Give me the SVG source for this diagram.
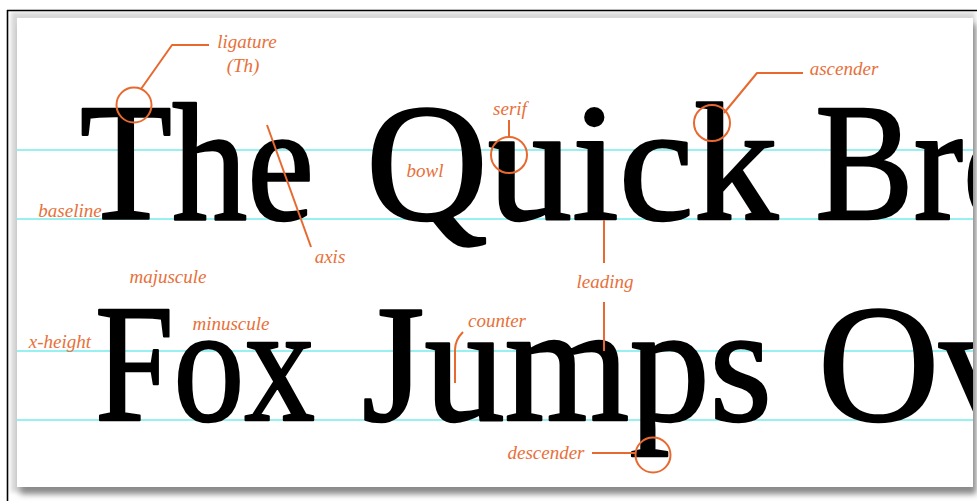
<svg xmlns="http://www.w3.org/2000/svg" width="977" height="501" viewBox="0 0 977 501">
<defs>
<style>
.big{font-family:"Liberation Serif","Times New Roman",serif;font-size:168px;fill:#000;stroke:#000;stroke-width:2.4;stroke-linejoin:round}
.lab{font-family:"Liberation Serif","Times New Roman",serif;font-style:italic;font-size:19px;fill:#E8703A;text-anchor:middle}
.guide{stroke:#98F0F0;stroke-width:2;fill:none}
.lead{stroke:#E8692F;stroke-width:2;fill:none;stroke-linecap:butt;stroke-linejoin:round}
.ring{stroke:#E8692F;stroke-width:2;fill:none}
</style>
<filter id="blur3" x="-5%" y="-5%" width="110%" height="110%"><feGaussianBlur stdDeviation="3"/></filter>
<filter id="blur2" x="-5%" y="-5%" width="110%" height="110%"><feGaussianBlur stdDeviation="2"/></filter>
<clipPath id="panelClip"><rect x="17" y="18" width="956" height="469"/></clipPath>
</defs>
<rect x="0" y="0" width="977" height="501" fill="#fff"/>
<g id="frame">
<rect x="11" y="12" width="964" height="480" fill="#d8d8d8" filter="url(#blur2)"/>
<rect x="20" y="24" width="956" height="470" fill="#8a8a8a" filter="url(#blur3)"/>
<rect x="17" y="18" width="956" height="469" fill="#fff"/>
<line x1="7" y1="10.5" x2="977" y2="10.5" stroke="#000" stroke-width="1.6"/>
<line x1="7.5" y1="10" x2="7.5" y2="501" stroke="#000" stroke-width="1.6"/>
</g>
<g id="guides">
<line class="guide" x1="17" y1="150" x2="973" y2="150"/>
<line class="guide" x1="17" y1="219" x2="973" y2="219"/>
<line class="guide" x1="17" y1="351" x2="973" y2="351"/>
<line class="guide" x1="17" y1="420" x2="973" y2="420"/>
</g>
<g id="sample-text" clip-path="url(#panelClip)">
<g id="row1">
<text class="big" x="80" y="219" textLength="234" lengthAdjust="spacingAndGlyphs">The</text>
<text class="big" x="366" y="219" textLength="412" lengthAdjust="spacingAndGlyphs">Quick</text>
<text class="big" x="815" y="219" textLength="222" lengthAdjust="spacingAndGlyphs">Bro</text>
</g>
<g id="row2">
<text class="big" x="95" y="420" textLength="220" lengthAdjust="spacingAndGlyphs">Fox</text>
<text class="big" x="362" y="420" textLength="410" lengthAdjust="spacingAndGlyphs">Jumps</text>
<text class="big" x="818" y="420">Ov</text>
</g>
</g>
<g id="connectors">
<polyline class="lead" points="209,45 172,45 141,89"/>
<line class="lead" x1="267" y1="125" x2="311" y2="247"/>
<line class="lead" x1="509" y1="120" x2="509" y2="137"/>
<polyline class="lead" points="803,73 757,73 724,113"/>
<line class="lead" x1="604" y1="220" x2="604" y2="263"/>
<line class="lead" x1="604" y1="302" x2="604" y2="351"/>
<path class="lead" d="M463,332 Q455,340 455,350 L455,383"/>
<line class="lead" x1="592" y1="453" x2="636" y2="453"/>
</g>
<g id="callout-rings">
<circle class="ring" cx="134" cy="105" r="17.5"/>
<circle class="ring" cx="509" cy="155" r="18"/>
<circle class="ring" cx="712" cy="123" r="18"/>
<circle class="ring" cx="653" cy="455" r="17.5"/>
</g>
<g id="label-ligature"><text class="lab" x="247" y="48">ligature</text><text class="lab" x="243" y="72">(Th)</text></g>
<g id="label-serif"><text class="lab" x="510" y="115">serif</text></g>
<g id="label-bowl"><text class="lab" x="425" y="177">bowl</text></g>
<g id="label-ascender"><text class="lab" x="844" y="75">ascender</text></g>
<g id="label-baseline"><text class="lab" x="70" y="217">baseline</text></g>
<g id="label-axis"><text class="lab" x="330" y="263">axis</text></g>
<g id="label-majuscule"><text class="lab" x="168" y="283">majuscule</text></g>
<g id="label-minuscule"><text class="lab" x="231" y="330">minuscule</text></g>
<g id="label-xheight"><text class="lab" x="60" y="348">x-height</text></g>
<g id="label-leading"><text class="lab" x="605" y="288">leading</text></g>
<g id="label-counter"><text class="lab" x="497" y="327">counter</text></g>
<g id="label-descender"><text class="lab" x="546" y="459">descender</text></g>
</svg>
